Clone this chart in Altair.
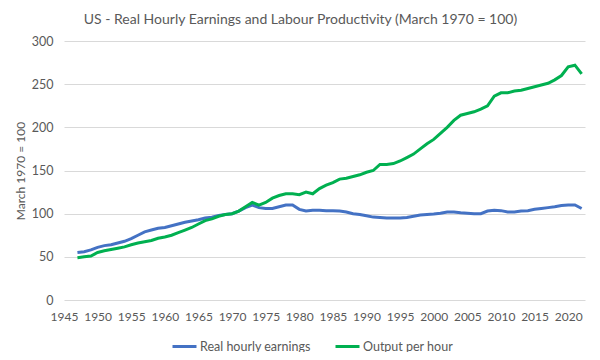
import altair as alt
import pandas as pd

years = list(range(1947, 2023))

earnings = [55, 56, 58, 61, 63, 64, 66, 68, 71, 75,
            79, 81, 83, 84, 86, 88, 90, 91.5, 93, 95,
            96, 98, 99, 100, 103, 107, 110, 107, 106, 106,
            108, 110, 110, 105, 103, 104, 104, 103.5, 103.5, 103,
            102, 100, 99, 97.5, 96, 95.5, 95, 95, 95, 95.5,
            97, 98.5, 99, 99.5, 100.5, 102, 102, 101, 100.5, 100,
            100, 103, 104, 103.5, 102, 102, 103, 103.5, 105, 106,
            107, 108, 109.5, 110, 110, 106]

productivity = [49, 50, 51, 55, 57, 58.5, 60, 61.5, 64, 66,
                67.5, 69, 71.5, 73, 75, 78, 81, 84, 88, 92,
                94, 97, 99, 100, 103, 108, 113, 110, 113, 118,
                121, 123, 123, 122, 125, 123, 129, 133, 136, 140,
                141, 143, 145, 148, 150, 157, 157, 158, 161, 165,
                169, 175, 181, 186, 193, 200, 208, 214, 216, 218,
                221, 225, 236, 240, 240, 242, 243, 245, 247, 249,
                251, 255, 260, 270, 272, 262]

series_names = ["Real hourly earnings", "Output per hour"]
series_colors = ["#4472C4", "#00B050"]
x_ticks = list(range(1945, 2021, 5))
y_ticks = [0, 50, 100, 150, 200, 250, 300]

rows = []
for y, v in zip(years, earnings):
    rows.append({"year": y, "value": v, "series": series_names[0], "order": 0})
for y, v in zip(years, productivity):
    rows.append({"year": y, "value": v, "series": series_names[1], "order": 1})
df = pd.DataFrame(rows)

FONT = "Lato"
GREY = "#595959"

chart = alt.Chart(df).mark_line(strokeWidth=3).encode(
    x=alt.X("year:Q",
            scale=alt.Scale(domain=[1945, 2022.5], nice=False, zero=False),
            axis=alt.Axis(values=x_ticks, format="d", grid=False, domain=False,
                          ticks=False, labelPadding=11, labelFontSize=12,
                          labelOverlap=False, labelFlush=False,
                          labelColor=GREY, labelFont=FONT, title=None)),
    y=alt.Y("value:Q",
            scale=alt.Scale(domain=[0, 300], nice=False),
            axis=alt.Axis(values=y_ticks, domain=False, ticks=False,
                          gridColor="#D9D9D9", gridWidth=1, labelPadding=11,
                          labelFontSize=12.5, labelColor=GREY, labelFont=FONT,
                          title="March 1970 = 100", titleFont=FONT,
                          titleFontSize=12, titleFontWeight="normal",
                          titleColor=GREY, titlePadding=4)),
    color=alt.Color("series:N",
                    scale=alt.Scale(domain=series_names, range=series_colors),
                    legend=alt.Legend(orient="none", legendX=107, legendY=292,
                                      direction="horizontal", title=None,
                                      symbolType="stroke", symbolSize=576,
                                      symbolStrokeWidth=3, labelOffset=2,
                                      columnPadding=18, labelFont=FONT,
                                      labelFontSize=12.5, labelColor=GREY)),
    detail="order:O",
).properties(
    width=521,
    height=259,
    title=alt.TitleParams(
        "US - Real Hourly Earnings and Labour Productivity (March 1970 = 100)",
        font=FONT, fontSize=14, fontWeight="normal", color=GREY,
        anchor="middle", dx=-24, offset=8),
    autosize=alt.AutoSizeParams(type="none"),
    padding={"left": 56, "top": 33, "right": 7, "bottom": 52},
).configure_view(stroke=None)

chart.save("out.html", embed_options={"renderer": "svg", "actions": False})
